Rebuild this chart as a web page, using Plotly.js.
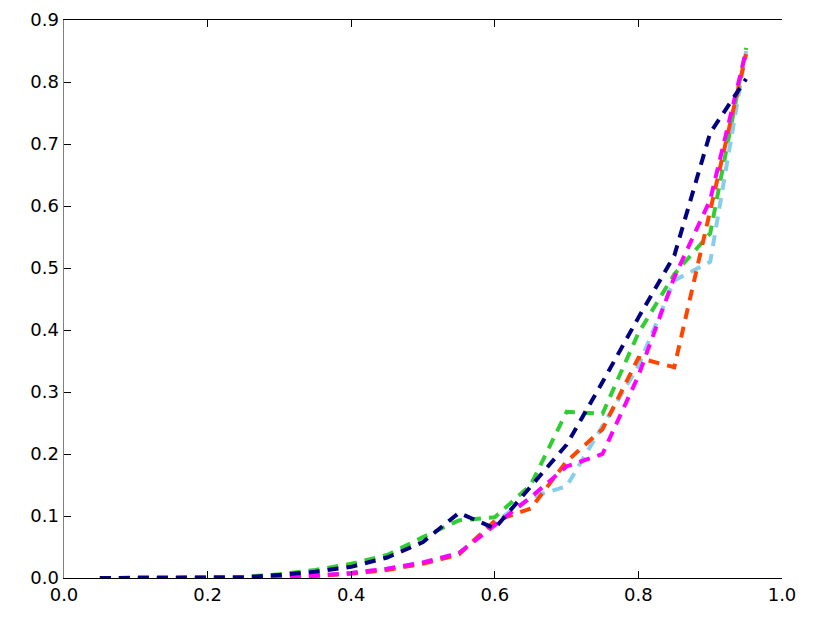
<!DOCTYPE html>
<html>
<head>
<meta charset="utf-8">
<script src="https://cdn.plot.ly/plotly-3.0.1.min.js"></script>
<style>html,body{margin:0;padding:0;background:#fff;}#chart{width:831px;height:618px;}</style>
</head>
<body>
<div id="chart"></div>
<script>
const xVals = [0.05,0.10,0.15,0.20,0.25,0.30,0.35,0.40,0.45,0.50,0.55,0.60,0.65,0.70,0.75,0.80,0.85,0.90,0.95];
const navySeries    = [0,0,0,0,0.001,0.005,0.010,0.018,0.033,0.058,0.105,0.080,0.147,0.215,0.316,0.420,0.520,0.718,0.805];
const greenSeries   = [0,0,0,0,0.002,0.006,0.013,0.023,0.037,0.066,0.093,0.098,0.150,0.268,0.265,0.395,0.490,0.556,0.855];
const skySeries     = [0,0,0,0,0,0.001,0.004,0.008,0.015,0.025,0.040,0.090,0.130,0.148,0.245,0.342,0.480,0.510,0.850];
const orangeSeries  = [0,0,0,0,0,0.001,0.003,0.007,0.013,0.023,0.038,0.092,0.112,0.188,0.240,0.355,0.340,0.590,0.845];
const magentaSeries = [0,0,0,0,0,0.001,0.004,0.008,0.015,0.025,0.040,0.085,0.130,0.180,0.200,0.326,0.485,0.610,0.850];
const xTicks = [0.0,0.2,0.4,0.6,0.8,1.0];
const yTicks = [0.0,0.1,0.2,0.3,0.4,0.5,0.6,0.7,0.8,0.9];

function tr(y, color) {
  return {x: xVals, y: y, type: 'scatter', mode: 'lines',
          line: {color: color, width: 4, dash: '11px,8px'}, hoverinfo: 'skip'};
}
const data = [
  tr(greenSeries, '#32cd32'),
  tr(skySeries, '#87ceeb'),
  tr(orangeSeries, '#ff4500'),
  tr(magentaSeries, '#ff00ff'),
  tr(navySeries, '#000080')
];
const tickFont = {family: 'DejaVu Sans, sans-serif', size: 18, color: '#000'};
const layout = {
  width: 831, height: 618,
  margin: {l: 64, r: 49, t: 20, b: 40},
  paper_bgcolor: '#fff', plot_bgcolor: '#fff',
  showlegend: false,
  xaxis: {range: [0, 1], tickvals: xTicks, ticktext: xTicks.map(v => v.toFixed(1)),
          showgrid: false, zeroline: false, showline: true, linecolor: '#000', linewidth: 1,
          mirror: 'ticks', ticks: 'inside', ticklen: 7, tickcolor: '#000', tickwidth: 1,
          tickfont: tickFont},
  yaxis: {range: [0, 0.9], tickvals: yTicks, ticktext: yTicks.map(v => v.toFixed(1)),
          showgrid: false, zeroline: false, showline: true, linecolor: '#808080', linewidth: 1.5,
          mirror: false, ticks: 'inside', ticklen: 7, tickcolor: '#000', tickwidth: 1,
          tickfont: tickFont},
  yaxis2: {range: [0, 0.9], tickvals: yTicks, overlaying: 'y', side: 'right',
          showticklabels: false, showgrid: false, zeroline: false, showline: true,
          linecolor: '#000', linewidth: 1, ticks: 'inside', ticklen: 7, tickcolor: '#000', tickwidth: 1}
};
Plotly.newPlot('chart', data, layout, {displayModeBar: false, staticPlot: true});
</script>
</body>
</html>
